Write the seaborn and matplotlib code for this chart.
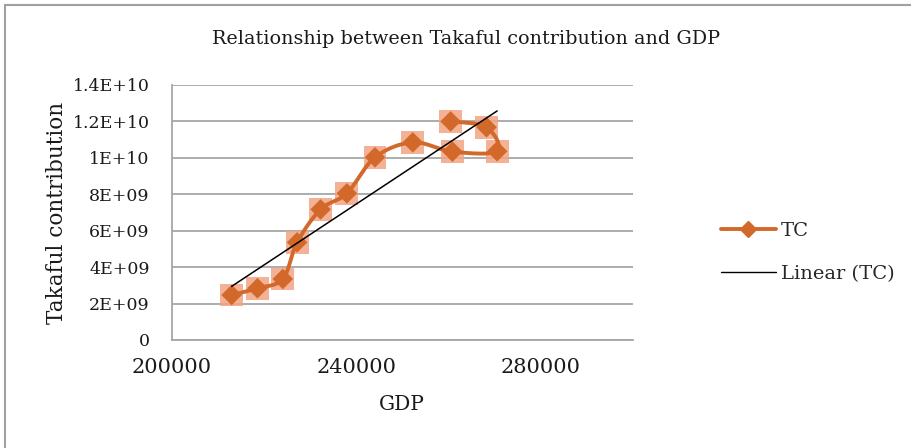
import numpy as np
import pandas as pd
import matplotlib
matplotlib.use("Agg")
import matplotlib.pyplot as plt
import seaborn as sns
from matplotlib.lines import Line2D

# Data (series order as plotted)
gdp = [213000, 218600, 224100, 227200, 232300, 238000, 244100, 252300,
       260900, 270600, 268300, 260500]
tc = [2.47e9, 2.84e9, 3.35e9, 5.36e9, 7.17e9, 8.05e9, 10.03e9, 10.85e9,
      10.34e9, 10.36e9, 11.68e9, 12.0e9]
x_ticks = [200000, 240000, 280000]
y_ticks = [0, 2e9, 4e9, 6e9, 8e9, 1e10, 1.2e10, 1.4e10]
y_labels = ["0", "2E+09", "4E+09", "6E+09", "8E+09", "1E+10", "1.2E+10", "1.4E+10"]

title = "Relationship between Takaful contribution and GDP"
series_name = "TC"
trend_name = "Linear (TC)"


def smooth(xs, ys, n=30):
    """Bezier smoothing with Catmull-Rom control points (like Excel smoothed lines)."""
    xs = np.asarray(xs, float)
    ys = np.asarray(ys, float)
    px = np.concatenate([[xs[0]], xs, [xs[-1]]])
    py = np.concatenate([[ys[0]], ys, [ys[-1]]])
    out_x, out_y = [], []
    t = np.linspace(0, 1, n)
    k = 1 / 6
    for i in range(1, len(px) - 2):
        p0 = np.array([px[i - 1], py[i - 1]])
        p1 = np.array([px[i], py[i]])
        p2 = np.array([px[i + 1], py[i + 1]])
        p3 = np.array([px[i + 2], py[i + 2]])
        c1 = p1 + (p2 - p0) * k
        c2 = p2 - (p3 - p1) * k
        b = ((1 - t) ** 3)[:, None] * p1 + (3 * (1 - t) ** 2 * t)[:, None] * c1 \
            + (3 * (1 - t) * t ** 2)[:, None] * c2 + (t ** 3)[:, None] * p2
        out_x.extend(b[:, 0])
        out_y.extend(b[:, 1])
    return np.array(out_x), np.array(out_y)


sns.set_theme(style="white")
plt.rcParams["font.family"] = ["DejaVu Serif"]

fig = plt.figure(figsize=(9.12, 4.48), dpi=100)
ax = fig.add_axes([0.1883, 0.2411, 0.5054, 0.5692])

# smoothing done in screen-proportional space
xs_n = (np.array(gdp) - 200000) / 100000 * 461
ys_n = np.array(tc) / 1.4e10 * 255
sx, sy = smooth(xs_n, ys_n)
sx = sx / 461 * 100000 + 200000
sy = sy / 255 * 1.4e10
curve = pd.DataFrame({"x": sx, "y": sy})
pts = pd.DataFrame({"GDP": gdp, "TC": tc})

orange = "#D2692A"
sns.lineplot(data=curve, x="x", y="y", sort=False, estimator=None, ax=ax,
             color=orange, lw=2.8, zorder=3)
sns.scatterplot(data=pts, x="GDP", y="TC", marker="s", s=270, color="#F2A584",
                alpha=0.85, edgecolor="none", ax=ax, zorder=2)
sns.scatterplot(data=pts, x="GDP", y="TC", marker="D", s=110, color=orange,
                edgecolor="none", ax=ax, zorder=4)

# linear trendline
coef = np.polyfit(gdp, tc, 1)
tx = np.array([min(gdp), max(gdp)])
trend = pd.DataFrame({"x": tx, "y": np.polyval(coef, tx)})
sns.lineplot(data=trend, x="x", y="y", color="black", lw=1.1, ax=ax, zorder=5)

ax.set_xlim(200000, 300000)
ax.set_ylim(0, 1.4e10)
ax.set_xticks(x_ticks)
ax.set_xticklabels([str(v) for v in x_ticks])
ax.set_yticks(y_ticks)
ax.set_yticklabels(y_labels)
ax.grid(axis="y", color="#A6A6A6", lw=1.3)
ax.set_axisbelow(True)
for s in ["top", "right"]:
    ax.spines[s].set_visible(False)
for s in ["left", "bottom"]:
    ax.spines[s].set_color("#A6A6A6")
    ax.spines[s].set_linewidth(1.3)
ax.tick_params(axis="both", length=0, colors="#1a1a1a")
ax.tick_params(axis="x", pad=13, labelsize=15)
ax.tick_params(axis="y", pad=16, labelsize=12.5)
ax.set_xlabel("GDP", fontsize=14.5, color="#1a1a1a", labelpad=13)
ax.set_ylabel("Takaful contribution", fontsize=15.5, color="#1a1a1a", labelpad=3)
fig.text(0.511, 0.912, title, ha="center", va="center", fontsize=13.8, color="#1a1a1a")

handles = [Line2D([], [], color=orange, lw=2.8, marker="D", markersize=8),
           Line2D([], [], color="black", lw=1.0)]
fig.legend(handles, [series_name, trend_name], loc="center left",
           bbox_to_anchor=(0.771, 0.437), frameon=False, fontsize=14,
           handlelength=2.85, labelspacing=1.3, handletextpad=0.25)

# chart border
fig.add_artist(plt.Rectangle((5 / 912, -0.1), 1.2, (443 / 448) + 0.1,
                             transform=fig.transFigure, fill=False,
                             edgecolor="#A0A0A0", lw=1.5))

fig.savefig("out.png", dpi=100)
